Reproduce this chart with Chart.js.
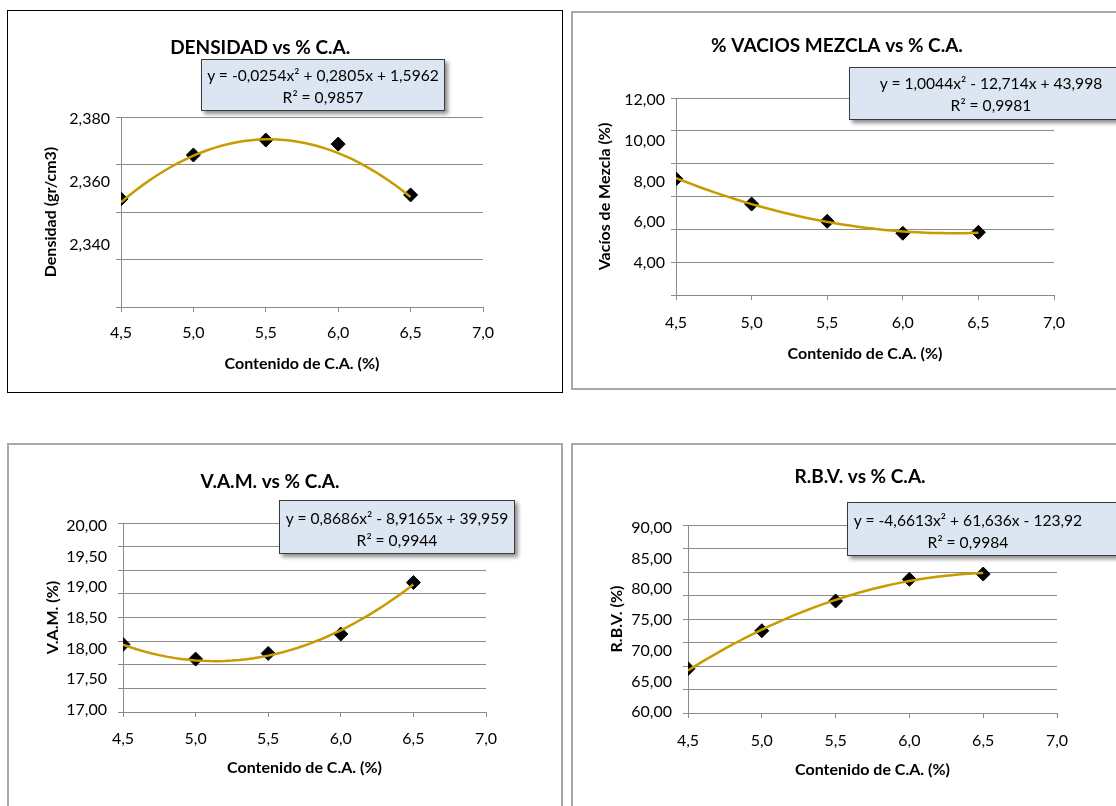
<!DOCTYPE html>
<html>
<head>
<meta charset="utf-8">
<script src="https://cdn.jsdelivr.net/npm/chart.js@4/dist/chart.umd.min.js"></script>
<style>
  html, body { margin: 0; padding: 0; background: #fff; width: 1116px; height: 806px; overflow: hidden; }
  .panel { position: absolute; box-sizing: border-box; background: #fff; }
  .panel canvas { position: absolute; left: 0; top: 0; }
  .eq { position: absolute; box-sizing: border-box; background: #dce6f2; border: 1px solid #3a3a3a;
        box-shadow: 3px 3px 4px rgba(0,0,0,0.45); font-family: Lato; font-size: 15.6px; line-height: 22px;
        text-align: center; color: #000; white-space: nowrap; }
</style>
</head>
<body>
<script>
// contenido de cemento asfaltico (%)
var contenidoCA = [4.5, 5.0, 5.5, 6.0, 6.5];
var caTicks = [4.5, 5.0, 5.5, 6.0, 6.5, 7.0];

// ensayo Marshall, valores
var densidad = [2.3455, 2.3640, 2.3703, 2.3686, 2.3472];
var vaciosMezcla = [7.07, 5.54, 4.49, 3.76, 3.82];
var vam = [17.43, 17.12, 17.24, 17.65, 18.74];
var rbv = [59.43, 67.50, 73.83, 78.44, 79.57];

// lineas de tendencia polinomica (a, b, c)
var densCoef = [-0.0254, 0.2805, 1.5962];
var vaciosCoef = [1.0044, -12.714, 43.998];
var vamCoef = [0.8686, -8.9165, 39.959];
var rbvCoef = [-4.6613, 61.636, -123.92];

var densEq = ['y = -0,0254x² + 0,2805x + 1,5962', 'R² = 0,9857'];
var vaciosEq = ['y = 1,0044x² - 12,714x + 43,998', 'R² = 0,9981'];
var vamEq = ['y = 0,8686x² - 8,9165x + 39,959', 'R² = 0,9944'];
var rbvEq = ['y = -4,6613x² + 61,636x - 123,92', 'R² = 0,9984'];

// lineas de grilla y etiquetas del eje y
var densGrid = [2.30, 2.32, 2.34, 2.36, 2.38];
var densLabels = [2.34, 2.36, 2.38];
var vaciosGrid = [0, 2, 4, 6, 8, 10, 12];
var vaciosLabels = [4, 6, 8, 10, 12];
var vamGrid = [16, 16.5, 17, 17.5, 18, 18.5, 19, 19.5, 20];
var vamLabels = [17, 17.5, 18, 18.5, 19, 19.5, 20];
var rbvGrid = [50, 55, 60, 65, 70, 75, 80, 85, 90];
var rbvLabels = [60, 65, 70, 75, 80, 85, 90];

Chart.defaults.font.family = 'Lato';
Chart.defaults.color = '#000';
var GRID = '#8a8a8a';

function fmt(d) {
  return function (v) { return v.toFixed(d).replace('.', ','); };
}

function keep(list) {
  return function (s) {
    s.ticks = list.filter(function (v) { return v >= s.min - 1e-9 && v <= s.max + 1e-9; })
                  .map(function (v) { return { value: v }; });
  };
}

// puntos de la curva de tendencia entre el primer y ultimo ensayo
function trend(coef, xs) {
  var pts = [];
  var a = xs[0], b = xs[xs.length - 1];
  for (var i = 0; i <= 40; i++) {
    var x = a + (b - a) * i / 40;
    pts.push({ x: x, y: coef[0] * x * x + coef[1] * x + coef[2] });
  }
  return pts;
}

function drawPanel(c) {
  var panel = document.createElement('div');
  panel.className = 'panel';
  panel.style.left = c.box[0] + 'px';
  panel.style.top = c.box[1] + 'px';
  panel.style.width = c.box[2] + 'px';
  panel.style.height = c.box[3] + 'px';
  panel.style.border = c.border;
  document.body.appendChild(panel);

  var cv = document.createElement('canvas');
  cv.width = c.canvas[0];
  cv.height = c.canvas[1];
  panel.appendChild(cv);

  var eq = document.createElement('div');
  eq.className = 'eq';
  eq.style.left = c.eqBox[0] + 'px';
  eq.style.top = c.eqBox[1] + 'px';
  eq.style.width = c.eqBox[2] + 'px';
  eq.style.height = c.eqBox[3] + 'px';
  eq.style.paddingTop = c.eqPad[0] + 'px';
  eq.style.paddingRight = c.eqPad[1] + 'px';
  eq.innerHTML = c.eq[0] + '<br>' + c.eq[1];
  panel.appendChild(eq);

  var points = c.x.map(function (x, i) { return { x: x, y: c.y[i] }; });

  var scales = {
    x: {
      type: 'linear', min: 4.5, max: 7.0,
      afterBuildTicks: keep(caTicks),
      afterFit: function (s) { s.height = c.xH; },
      grid: { drawOnChartArea: false, drawTicks: true, tickLength: 5, color: GRID },
      border: { color: GRID },
      ticks: { font: { size: 16 }, padding: c.xPad, maxRotation: 0, autoSkip: false, callback: fmt(1) },
      title: { display: true, text: 'Contenido de C.A. (%)', font: { size: 16, weight: 'bold' }, padding: { top: 4, bottom: 4 } }
    },
    y: {
      type: 'linear', position: 'left', weight: 0, min: c.grid[0], max: c.grid[c.grid.length - 1],
      afterBuildTicks: keep(c.grid),
      afterFit: function (s) { s.width = 6; },
      grid: { color: GRID, tickLength: 5 },
      border: { color: GRID },
      ticks: { display: false }
    },
    yl: {
      type: 'linear', position: 'left', weight: 1, min: c.lab[0], max: c.lab[1],
      afterBuildTicks: keep(c.labels),
      afterFit: function (s) { s.width = c.ylW; },
      grid: { display: false, drawTicks: false },
      border: { display: false },
      ticks: { font: { size: 16 }, padding: c.ylPad, autoSkip: false, callback: fmt(c.dec) },
      title: { display: true, text: c.yTitle, font: { size: 16, weight: 'bold' }, padding: { top: 4, bottom: 4 } }
    }
  };
  if (c.sp > 0) {
    scales.sp = {
      type: 'linear', position: 'right',
      afterFit: function (s) { s.width = c.sp; },
      grid: { display: false, drawTicks: false },
      border: { display: false },
      ticks: { display: false }
    };
  }

  new Chart(cv, {
    type: 'scatter',
    data: {
      datasets: [
        {
          data: trend(c.coef, c.x), showLine: true, borderColor: '#c69c00', borderWidth: 2.5,
          pointRadius: 0, order: 0
        },
        {
          data: points, pointStyle: 'rectRot', pointRadius: 7, backgroundColor: '#000',
          borderColor: '#000', borderWidth: 1, order: 1
        }
      ]
    },
    options: {
      responsive: false,
      animation: false,
      layout: { padding: { left: c.pad[0], top: 0, right: c.pad[1], bottom: c.pad[2] } },
      plugins: {
        legend: { display: false },
        tooltip: { enabled: false },
        title: {
          display: true, text: c.title, color: '#000',
          font: { size: 19, weight: 'bold' },
          padding: { top: c.tPad[0], bottom: c.tPad[1] }
        }
      },
      scales: scales
    }
  });
}

drawPanel({
  box: [7, 10, 556, 383], border: '1px solid #000', canvas: [554, 381],
  pad: [29.4, 79, 14.4], sp: 0, tPad: [25.6, 57.6], xH: 70.6, xPad: 11.4, ylW: 77.6, ylPad: 5,
  title: 'DENSIDAD vs % C.A.', yTitle: 'Densidad (gr/cm3)',
  x: contenidoCA, y: densidad, coef: densCoef, eq: densEq,
  grid: densGrid, labels: densLabels, lab: [2.3205, 2.3805], dec: 3,
  eqBox: [193, 48, 244, 52], eqPad: [4, 0]
});

drawPanel({
  box: [571, 11, 560, 379], border: '2px solid #a8a8a8', canvas: [556, 375],
  pad: [18.4, 46.4, 20.4], sp: 28.6, tPad: [21.6, 40.6], xH: 72.6, xPad: 13.4, ylW: 78.6, ylPad: 5,
  title: '% VACIOS MEZCLA vs % C.A.', yTitle: 'Vacíos de Mezcla (%)',
  x: contenidoCA, y: vaciosMezcla, coef: vaciosCoef, eq: vaciosEq,
  grid: vaciosGrid, labels: vaciosLabels, lab: [2.43, 12.098], dec: 2,
  eqBox: [276, 54, 284, 53], eqPad: [4, 0]
});

drawPanel({
  box: [7, 443, 556, 404], border: '2px solid #a8a8a8', canvas: [552, 400],
  pad: [30.4, 60.4, 63.4], sp: 14.6, tPad: [25.6, 29.6], xH: 69.6, xPad: 12.4, ylW: 77.6, ylPad: 10,
  title: 'V.A.M. vs % C.A.', yTitle: 'V.A.M. (%)',
  x: contenidoCA, y: vam, coef: vamCoef, eq: vamEq,
  grid: vamGrid, labels: vamLabels, lab: [16.967, 20.049], dec: 2,
  eqBox: [270, 55, 236, 54], eqPad: [6, 0]
});

drawPanel({
  box: [571, 443, 560, 404], border: '2px solid #a8a8a8', canvas: [556, 400],
  pad: [30.4, 12.4, 61.4], sp: 59.6, tPad: [20.6, 36.6], xH: 70.6, xPad: 13.4, ylW: 78.6, ylPad: 10,
  title: 'R.B.V. vs % C.A.', yTitle: 'R.B.V. (%)',
  x: contenidoCA, y: rbv, coef: rbvCoef, eq: rbvEq,
  grid: rbvGrid, labels: rbvLabels, lab: [59.84, 90.49], dec: 2,
  eqBox: [274, 57, 290, 54], eqPad: [6, 48]
});
</script>
</body>
</html>
